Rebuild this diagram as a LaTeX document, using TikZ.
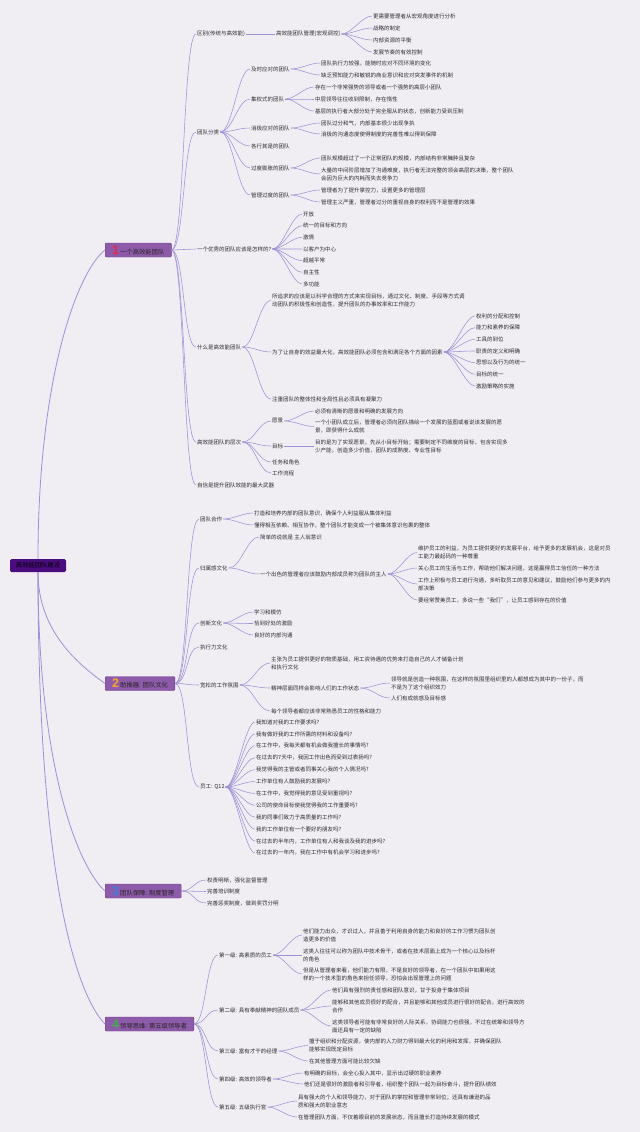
\documentclass[tikz,border=0pt]{standalone}
\usepackage{fontspec}
\newfontfamily\cjk{Noto Sans CJK SC}
\newfontfamily\numfont{Liberation Sans}
\usetikzlibrary{positioning}
\definecolor{bgcol}{RGB}{240,238,243}
\definecolor{linkcol}{RGB}{158,144,214}
\definecolor{topicfill}{RGB}{142,90,170}
\definecolor{topicdraw}{RGB}{112,62,142}
\definecolor{rootfill}{RGB}{75,12,128}
\definecolor{txt}{RGB}{45,45,52}
\definecolor{numone}{RGB}{232,40,70}
\definecolor{numtwo}{RGB}{246,170,40}
\definecolor{numthree}{RGB}{60,130,220}
\definecolor{numfour}{RGB}{70,170,80}
\tikzset{
  leaf/.style={anchor=west,inner sep=1pt,text=txt,align=left,font=\cjk\fontsize{5.5}{8}\selectfont},
  topic/.style={anchor=west,fill=topicfill,draw=topicdraw,line width=0.4pt,rounded corners=1pt,minimum height=14pt,inner xsep=7pt,inner ysep=1pt,text=black!85,font=\cjk\fontsize{6.3}{7}\selectfont},
  rootbox/.style={fill=rootfill,rounded corners=1.5pt,minimum width=56pt,minimum height=13pt,text=black,font=\cjk\fontsize{6.3}{7}\selectfont},
  link/.style={draw=linkcol,line width=0.55pt},
  trunk/.style={draw=linkcol,line width=0.8pt}
}
\newcommand\num[2]{{\numfont\bfseries\fontsize{12.5}{12.5}\selectfont\color{#1}#2}\,}
\newcommand\fan[3][10]{\foreach \c in {#3}{\draw[link] (#2.east) .. controls +(#1,0) and +(-#1,0) .. (\c.west);}}

\begin{document}
\begin{tikzpicture}[x=1pt,y=-1pt]
\fill[bgcol] (0,0) rectangle (640,1132);
\useasboundingbox (0,0) rectangle (640,1132);

\node[rootbox] (root) at (38,565.5) {高效能团队建设};
\node[topic] (m1) at (105,250) {\num{numone}{1}一个高效能团队};
\node[topic] (m2) at (105,683.5) {\num{numtwo}{2}助推器: 团队文化};
\node[topic] (m3) at (105,891) {\num{numthree}{3}团队保障: 制度管理};
\node[topic] (m4) at (105,1024) {\num{numfour}{4}领导思维: 第五级领导者};
\draw[trunk] (root.north) .. controls +(0,-180) and +(-28,22) .. (m1.west);
\draw[trunk] (root.south) .. controls +(0,60) and +(-25,-18) .. (m2.west);
\draw[trunk] (root.south) .. controls +(0,200) and +(-25,-22) .. (m3.west);
\draw[trunk] (root.south) .. controls +(0,320) and +(-25,-25) .. (m4.west);

\node[leaf] (diff) at (196,34) {区别(传统与高效能)};
\node[leaf] (macro) at (275,34) {高效能团队管理(宏观调控)};
\draw[link] (diff) -- (macro);
\foreach \t [count=\i] in {更需要管理者从宏观角度进行分析,战略的制定,内部资源的平衡,发展节奏的有效控制}
  \node[leaf] (g\i) at (372,{4+12*\i}) {\t};
\fan{macro}{g1,g2,g3,g4}

\node[leaf] (kinds) at (196,132) {团队分类};
\node[leaf] (quick) at (250,69) {及时应对的团队};
\node[leaf] (quick1) at (320,63) {团队执行力较强，能随时应对不同环境的变化};
\node[leaf] (quick2) at (320,75) {缺乏预知能力和敏锐的商业意识和应对突发事件的机制};
\node[leaf] (central) at (250,99) {集权式的团队};
\node[leaf] (central1) at (314,87) {存在一个非常强势的领导或者一个强势的高层小团队};
\node[leaf] (central2) at (314,99) {中层领导往往收到限制，存在惰性};
\node[leaf] (central3) at (314,111) {基层的执行者大部分处于完全服从的状态，创新能力受到压制};
\node[leaf] (passive) at (250,128) {消极应对的团队};
\node[leaf] (passive1) at (320,123) {团队过分和气，内部基本很少出现争执};
\node[leaf] (passive2) at (320,134) {消极的沟通态度使得制度的完善性难以得到保障};
\node[leaf] (loose) at (250,146) {各行其是的团队};
\node[leaf] (bloat) at (250,168) {过度膨胀的团队};
\node[leaf] (bloat1) at (320,158) {团队规模超过了一个正常团队的规模，内部结构非常臃肿且复杂};
\node[leaf] (bloat2) at (320,174) {大量的中间阶层增加了沟通难度，执行者无法完整的领会高层的决策，整个团队\\会因为巨大的内耗而失去竞争力};
\node[leaf] (overmgmt) at (250,195) {管理过度的团队};
\node[leaf] (overmgmt1) at (320,190) {管理者为了提升掌控力，设置更多的管理层};
\node[leaf] (overmgmt2) at (320,202) {管理主义严重，管理者过分的重视自身的权利而不是管理的效果};
\fan[12]{kinds}{quick,central,passive,loose,bloat,overmgmt}
\fan{quick}{quick1,quick2}
\fan{central}{central1,central2,central3}
\fan{passive}{passive1,passive2}
\fan{bloat}{bloat1,bloat2}
\fan{overmgmt}{overmgmt1,overmgmt2}

\node[leaf] (good) at (196,249) {一个优秀的团队应该是怎样的?};
\foreach \t [count=\i] in {开放,统一的目标和方向,激情,以客户为中心,超越平常,自主性,多功能}
  \node[leaf] (good\i) at (302,{202.3+11.67*\i}) {\t};
\fan{good}{good1,good2,good3,good4,good5,good6,good7}

\node[leaf] (what) at (196,347) {什么是高效能团队};
\node[leaf] (what1) at (271,300.5) {所追求的应该是以科学合理的方式来实现目标，通过文化、制度、手段等方式调\\动团队的积极性和创造性，提升团队的办事效率和工作能力};
\node[leaf] (what2) at (271,352) {为了让自身的效益最大化，高效能团队必须包含和满足各个方面的因素};
\node[leaf] (what3) at (271,399) {注重团队的整体性和全局性且必须具有凝聚力};
\foreach \t [count=\i] in {权利的分配和控制,能力和素养的保障,工具的到位,职责的定义和明确,思想以及行为的统一,目标的统一,激励策略的实施}
  \node[leaf] (factor\i) at (475,{304.3+11.67*\i}) {\t};
\fan[12]{what}{what1,what2,what3}
\fan{what2}{factor1,factor2,factor3,factor4,factor5,factor6,factor7}

\node[leaf] (levels) at (196,442) {高效能团队的层次};
\node[leaf] (vision) at (271,421) {愿景};
\node[leaf] (vision1) at (314,411) {必须有清晰的愿景和明确的发展方向};
\node[leaf] (vision2) at (314,426.5) {一个小团队成立后，管理者必须向团队描绘一个发展的蓝图或者说该发展的愿\\景，即获得什么成就};
\node[leaf] (goal) at (271,446) {目标};
\node[leaf] (goal1) at (314,446) {目的是为了实现愿景，先从小目标开始；需要制定不同维度的目标，包含实现多\\少产能，创造多少价值，团队的成熟度、专业性目标};
\node[leaf] (role) at (271,462) {任务和角色};
\node[leaf] (flow) at (271,473) {工作流程};
\node[leaf] (faith) at (196,485) {自信是提升团队效能的最大武器};
\fan[12]{levels}{vision,goal,role,flow}
\fan{vision}{vision1,vision2}
\draw[link] (goal) -- (goal1);
\fan[13]{m1}{diff,kinds,good,what,levels,faith}

\node[leaf] (team) at (199,519) {团队合作};
\node[leaf] (team1) at (253,513) {打造和培养内部的团队意识，确保个人利益服从集体利益};
\node[leaf] (team2) at (253,525) {懂得相互依赖、相互协作，整个团队才能变成一个被集体意识包裹的整体};
\node[leaf] (belong) at (199,568) {归属感文化};
\node[leaf] (owner) at (259,537) {简单的说就是 主人翁意识};
\node[leaf] (master) at (259,574) {一个出色的管理者应该鼓励内部成员称为团队的主人};
\node[leaf] (care1) at (417,552.5) {维护员工的利益，为员工提供更好的发展平台，给予更多的发展机会，这是对员\\工能力最起码的一种尊重};
\node[leaf] (care2) at (417,568) {关心员工的生活与工作，帮助他们解决问题，这是赢得员工信任的一种方法};
\node[leaf] (care3) at (417,584) {工作上积极与员工进行沟通，多听取员工的意见和建议，鼓励他们参与更多的内\\部决策};
\node[leaf] (care4) at (417,600) {要经常赞美员工，多说一些“我们”，让员工感到存在的价值};
\node[leaf] (create) at (199,623) {创新文化};
\foreach \t [count=\i] in {学习和模仿,恰到好处的激励,良好的内部沟通}
  \node[leaf] (create\i) at (253,{600.5+11.5*\i}) {\t};
\node[leaf] (exec) at (199,647) {执行力文化};
\node[leaf] (relax) at (199,685) {宽松的工作氛围};
\node[leaf] (relax1) at (270,663) {主张为员工提供更好的物质基础，用工资待遇的优势来打造自己的人才储备计划\\和执行文化};
\node[leaf] (relax2) at (270,688) {精神层面同样会影响人们的工作状态};
\node[leaf] (relax3) at (270,711) {每个领导者都应该非常熟悉员工的性格和能力};
\node[leaf] (mood1) at (390,683) {领导就是创造一种氛围，在这样的氛围里组织里的人都想成为其中的一份子，而\\不是为了这个组织效力};
\node[leaf] (mood2) at (390,698) {人们有成就感及目标感};
\node[leaf] (staff) at (199,787) {员工: Q12};
\foreach \t [count=\i] in {我知道对我的工作要求吗?,我有做好我的工作所需的材料和设备吗?,在工作中，我每天都有机会做我擅长的事情吗?,在过去的7天中，我因工作出色而受到过表扬吗?,我觉得我的主管或者同事关心我的个人情况吗?,工作单位有人鼓励我的发展吗?,在工作中，我觉得我的意见受到重视吗?,公司的使命目标使我觉得我的工作重要吗?,我的同事们致力于高质量的工作吗?,我的工作单位有一个要好的朋友吗?,在过去的半年内，工作单位有人和我谈及我的进步吗?,在过去的一年内，我在工作中有机会学习和进步吗?}
  \node[leaf] (q\i) at (255,{710.1+11.9*\i}) {\t};
\fan[13]{m2}{team,belong,create,exec,relax,staff}
\fan{team}{team1,team2}
\fan[12]{belong}{owner,master}
\fan{master}{care1,care2,care3,care4}
\fan{create}{create1,create2,create3}
\fan[12]{relax}{relax1,relax2,relax3}
\fan[12]{relax2}{mood1,mood2}
\fan{staff}{q1,q2,q3,q4,q5,q6,q7,q8,q9,q10,q11,q12}

\foreach \t [count=\i] in {权责明晰，强化监督管理,完善培训制度,完善惩奖制度，做到奖罚分明}
  \node[leaf] (rule\i) at (206,{868.5+11.5*\i}) {\t};
\fan[12]{m3}{rule1,rule2,rule3}

\node[leaf] (lv1) at (218,955) {第一级: 高素质的员工};
\node[leaf] (lv1a) at (302,935) {他们能力出众，才识过人，并且善于利用自身的能力和良好的工作习惯为团队创\\造更多的价值};
\node[leaf] (lv1b) at (302,955) {这类人往往可以称为团队中技术骨干，或者在技术层面上成为一个核心以及标杆\\的角色};
\node[leaf] (lv1c) at (302,974) {但是从管理者来看，他们能力有限，不是良好的领导者，在一个团队中如果用这\\样的一个技术型的角色来担任领导，恐怕会出现管理上的问题};
\node[leaf] (lv2) at (218,1010) {第二级: 具有奉献精神的团队成员};
\node[leaf] (lv2a) at (331,990) {他们具有强烈的责任感和团队意识，甘于投身于集体项目};
\node[leaf] (lv2b) at (331,1006) {能够和其他成员很好的配合，并且能够和其他成员进行很好的配合，进行高效的\\合作};
\node[leaf] (lv2c) at (331,1026) {这类领导者可能有非常良好的人际关系，协调能力也很强，不过在统筹和领导方\\面还具有一定的缺陷};
\node[leaf] (lv3) at (218,1051) {第三级: 富有才干的经理};
\node[leaf] (lv3a) at (308,1045.5) {擅于组织和分配资源，使内部的人力财力得到最大化的利用和发挥，并确保团队\\能够实现既定目标};
\node[leaf] (lv3b) at (308,1061) {在其他管理方面可能比较欠缺};
\node[leaf] (lv4) at (218,1079) {第四级: 高效的领导者};
\node[leaf] (lv4a) at (303,1073) {有明确的目标，会全心投入其中，显示出过硬的职业素养};
\node[leaf] (lv4b) at (303,1084) {他们还是很好的激励者和引导者，组织整个团队一起为目标奋斗，提升团队绩效};
\node[leaf] (lv5) at (218,1107) {第五级: 五级执行官};
\node[leaf] (lv5a) at (297,1101) {具有强大的个人和领导能力，对于团队的掌控和管理非常到位；还具有谦逊的品\\质和强大的职业意志};
\node[leaf] (lv5b) at (297,1117) {在管理团队方面，不仅着眼目前的发展状态，而且擅长打造持续发展的模式};
\fan[12]{m4}{lv1,lv2,lv3,lv4,lv5}
\fan{lv1}{lv1a,lv1b,lv1c}
\fan{lv2}{lv2a,lv2b,lv2c}
\fan{lv3}{lv3a,lv3b}
\fan{lv4}{lv4a,lv4b}
\fan{lv5}{lv5a,lv5b}
\end{tikzpicture}
\end{document}
